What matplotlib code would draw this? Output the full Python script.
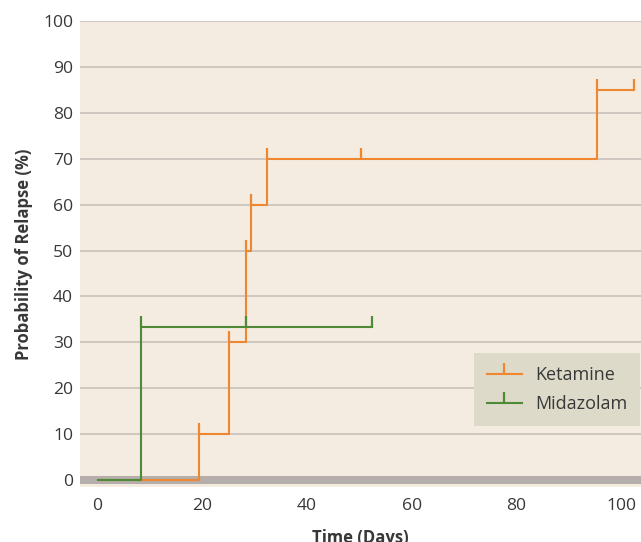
import matplotlib
matplotlib.use("Agg")
import matplotlib.pyplot as plt
from matplotlib.lines import Line2D

plt.rcParams['font.family'] = ['Open Sans', 'DejaVu Sans']

# Data
ket_times = [0, 19.4, 25.2, 28.3, 29.3, 32.3, 95.4, 102.4]
ket_prob = [0, 10, 30, 50, 60, 70, 85, 85]
ket_cens_t = [19.4, 25.2, 28.3, 29.3, 32.3, 50.3, 95.4, 102.4]
ket_cens_p = [10, 30, 50, 60, 70, 70, 85, 85]

mid_times = [0, 8.3, 52.4]
mid_prob = [0, 33.3, 33.3]
mid_cens_t = [8.3, 28.3, 52.4]
mid_cens_p = [33.3, 33.3, 33.3]

x_ticks = [0, 20, 40, 60, 80, 100]
y_ticks = [0, 10, 20, 30, 40, 50, 60, 70, 80, 90, 100]

ORANGE = '#EF8730'
GREEN = '#4F8A36'
BG = '#F4ECE0'
GRID = '#C5BEB8'
ZERO = '#B5AEAA'
LEGBG = '#DEDAC9'
TXT = '#383838'

fig = plt.figure(figsize=(6.41, 5.42), dpi=100)
ax = fig.add_axes([80/641, 1 - 487/542, 1 - 80/641, (487 - 21)/542])
ax.set_facecolor(BG)

ax.set_xlim(-3.35, 103.8)
ax.set_ylim(-1.5, 100)

for y in y_ticks[1:]:
    ax.axhline(y, color=GRID, lw=1.1, zorder=1)
ax.axhline(0, color=ZERO, lw=5.8, zorder=1.5)

ax.step(ket_times, ket_prob, where='post', color=ORANGE, lw=1.5, zorder=3)
ax.plot(ket_cens_t, ket_cens_p, ls='none', marker=2, ms=7.6, mew=1.6, color=ORANGE, zorder=3)
ax.step(mid_times, mid_prob, where='post', color=GREEN, lw=1.5, zorder=4)
ax.plot(mid_cens_t, mid_cens_p, ls='none', marker=2, ms=7.6, mew=1.6, color=GREEN, zorder=4)

for s in ax.spines.values():
    s.set_visible(False)

ax.set_xticks(x_ticks)
ax.set_yticks(y_ticks)
ax.tick_params(length=0, labelsize=12.6, colors=TXT, pad=5)
ax.tick_params(axis='x', pad=8)

ax.set_xlabel('Time (Days)', fontsize=12, fontweight='bold', color=TXT, labelpad=11)
ax.set_ylabel('Probability of Relapse (%)', fontsize=12, fontweight='bold', color=TXT, labelpad=7)

handles = [
    Line2D([], [], color=ORANGE, lw=1.5, marker=2, ms=7.6, mew=1.6),
    Line2D([], [], color=GREEN, lw=1.5, marker=2, ms=7.6, mew=1.6),
]
leg = ax.legend(handles, ['Ketamine', 'Midazolam'], loc='upper left',
                bbox_to_anchor=(0.702, 0.2876), borderaxespad=0, frameon=True,
                fancybox=False, facecolor=LEGBG, edgecolor='none', framealpha=1,
                fontsize=13, handlelength=1.93, handletextpad=0.74, numpoints=1,
                borderpad=0.72, labelspacing=0.62)
for t in leg.get_texts():
    t.set_color(TXT)

fig.savefig('out.png', dpi=100)
